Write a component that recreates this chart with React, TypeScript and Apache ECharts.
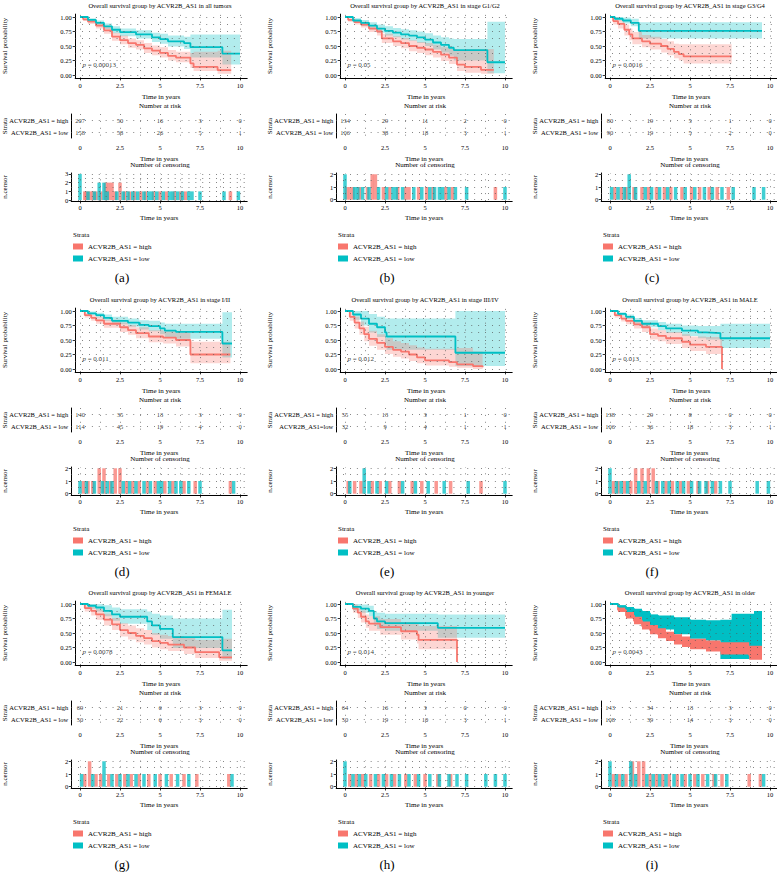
import React, { useEffect, useRef } from "react";
import * as echarts from "echarts";

const HIGH = "ACVR2B_AS1 = high";
const LOW = "ACVR2B_AS1 = low";
const RED = "#F8766D";
const TEAL = "#00BFC4";
const FONT = "Liberation Serif";

const TITLES = [
  "Overall survival group by ACVR2B_AS1 in all tumors",
  "Overall survival group by ACVR2B_AS1 in stage G1/G2",
  "Overall survival group by ACVR2B_AS1 in stage G3/G4",
  "Overall survival group by ACVR2B_AS1 in stage I/II",
  "Overall survival group by ACVR2B_AS1 in stage III/IV",
  "Overall survival group by ACVR2B_AS1 in MALE",
  "Overall survival group by ACVR2B_AS1 in FEMALE",
  "Overall survival group by ACVR2B_AS1 in younger",
  "Overall survival group by ACVR2B_AS1 in older",
];
const LETTERS = ["(a)", "(b)", "(c)", "(d)", "(e)", "(f)", "(g)", "(h)", "(i)"];
const P_VALUES = ["0.00013", "0.05", "0.0016", "0.011", "0.012", "0.013", "0.0078", "0.014", "0.0043"];
const LOW_LABELS = [LOW, LOW, LOW, LOW, "ACVR2B_AS1=low", LOW, LOW, LOW, LOW];

const X_TICKS = [0, 2.5, 5, 7.5, 10];
const SURV_TICKS = [0, 0.25, 0.5, 0.75, 1];
const GRID_X = [0, 1.25, 2.5, 3.75, 5, 6.25, 7.5, 8.75, 10];
const GRID_Y = [0, 0.125, 0.25, 0.375, 0.5, 0.625, 0.75, 0.875, 1];

const RISK_TIMES = [0, 2.5, 5, 7.5, 10];
const RISK_HIGH = [
  [207, 50, 16, 3, 0], [134, 29, 11, 2, 0], [80, 19, 5, 1, 0],
  [140, 35, 13, 3, 0], [55, 13, 3, 1, 0], [138, 29, 8, 0, 0],
  [69, 21, 6, 3, 0], [64, 16, 3, 0, 0], [143, 34, 13, 3, 0],
];
const RISK_LOW = [
  [158, 58, 26, 5, 1], [106, 38, 18, 3, 1], [90, 19, 5, 2, 0],
  [114, 45, 19, 4, 0], [32, 9, 4, 1, 1], [106, 36, 18, 3, 1],
  [50, 22, 6, 3, 0], [50, 19, 10, 3, 1], [108, 39, 14, 3, 0],
];
const CENSOR_MAX = [3, 2, 2, 2, 2, 2, 2, 2, 2];

// [time, survival, lower CI, upper CI]
const A_HIGH = [[0,1,1,1],[0.2,0.96,0.93,0.99],[0.5,0.92,0.88,0.96],[1,0.85,0.8,0.9],[1.5,0.77,0.71,0.83],[2,0.66,0.59,0.73],[2.5,0.6,0.53,0.68],[3,0.55,0.47,0.63],[3.5,0.52,0.44,0.6],[4,0.46,0.38,0.55],[4.5,0.42,0.34,0.51],[5,0.38,0.3,0.48],[5.5,0.33,0.25,0.43],[6,0.3,0.22,0.4],[6.9,0.2,0.12,0.38],[7.1,0.14,0.07,0.4],[8.6,0.085,0.02,0.42],[9.45,0.085,0.02,0.42]];
const A_LOW = [[0,1,1,1],[0.5,0.95,0.92,0.98],[1,0.9,0.86,0.94],[1.5,0.84,0.79,0.89],[2,0.78,0.72,0.84],[2.5,0.74,0.67,0.8],[3.5,0.7,0.63,0.77],[4.5,0.65,0.57,0.73],[5,0.62,0.54,0.71],[5.5,0.58,0.49,0.68],[6.5,0.55,0.45,0.66],[6.9,0.48,0.3,0.7],[8.9,0.37,0.18,0.7],[10,0.37,0.18,0.7]];
const B_HIGH = [[0,1,1,1],[0.2,0.95,0.92,0.98],[0.6,0.91,0.87,0.95],[1,0.87,0.82,0.92],[1.5,0.8,0.74,0.86],[2,0.75,0.68,0.82],[2.3,0.63,0.55,0.71],[3,0.58,0.5,0.67],[3.5,0.55,0.46,0.64],[4,0.5,0.41,0.6],[4.5,0.47,0.38,0.57],[5,0.44,0.34,0.55],[5.5,0.4,0.3,0.52],[6,0.35,0.24,0.48],[6.5,0.3,0.19,0.45],[7,0.18,0.07,0.42],[7.5,0.14,0.04,0.45],[8.5,0.09,0.02,0.45],[9.3,0.09,0.02,0.45]];
const B_LOW = [[0,1,1,1],[0.5,0.94,0.9,0.98],[1,0.9,0.85,0.95],[1.5,0.85,0.79,0.91],[2,0.8,0.73,0.87],[2.5,0.76,0.68,0.84],[3,0.73,0.65,0.81],[3.5,0.7,0.61,0.79],[4,0.68,0.59,0.77],[4.5,0.65,0.55,0.75],[5,0.61,0.5,0.72],[5.5,0.56,0.44,0.68],[6,0.52,0.39,0.65],[6.5,0.47,0.33,0.63],[6.8,0.43,0.25,0.62],[8.9,0.22,0.03,0.92],[10,0.22,0.03,0.92]];
const C_HIGH = [[0,1,1,1],[0.2,0.93,0.87,0.99],[0.5,0.88,0.8,0.95],[0.9,0.78,0.68,0.87],[1.2,0.7,0.6,0.8],[1.4,0.63,0.53,0.74],[2,0.58,0.48,0.69],[2.5,0.54,0.44,0.66],[3.2,0.5,0.39,0.62],[3.6,0.45,0.34,0.58],[4,0.4,0.29,0.54],[4.3,0.36,0.25,0.53],[4.6,0.32,0.2,0.53],[7.6,0.32,0.2,0.53]];
const C_LOW = [[0,1,1,1],[0.3,0.97,0.94,1],[0.8,0.94,0.89,0.99],[1.3,0.9,0.84,0.97],[1.8,0.76,0.63,0.91],[9.5,0.76,0.63,0.91]];
const D_HIGH = [[0,1,1,1],[0.3,0.93,0.89,0.97],[0.7,0.88,0.83,0.93],[1,0.84,0.78,0.9],[1.5,0.78,0.71,0.85],[2.5,0.72,0.64,0.8],[3,0.67,0.59,0.76],[3.5,0.62,0.53,0.72],[4.3,0.56,0.46,0.67],[5.2,0.54,0.44,0.65],[6,0.5,0.39,0.63],[6.9,0.25,0.1,0.47],[9.4,0.25,0.1,0.47]];
const D_LOW = [[0,1,1,1],[0.5,0.96,0.93,0.99],[1,0.93,0.89,0.97],[1.5,0.88,0.83,0.94],[2,0.83,0.77,0.9],[3,0.8,0.73,0.87],[3.7,0.76,0.68,0.84],[4.3,0.74,0.65,0.83],[5,0.7,0.6,0.8],[5.3,0.66,0.55,0.78],[6,0.64,0.52,0.78],[8.9,0.44,0.2,0.98],[9.5,0.44,0.2,0.98]];
const E_HIGH = [[0,1,1,1],[0.3,0.9,0.83,0.98],[0.6,0.8,0.7,0.9],[0.9,0.7,0.59,0.82],[1.2,0.6,0.48,0.73],[1.5,0.52,0.4,0.66],[2,0.45,0.33,0.6],[2.5,0.38,0.26,0.53],[3,0.33,0.21,0.48],[3.5,0.3,0.18,0.45],[4,0.25,0.14,0.41],[4.5,0.2,0.1,0.37],[5,0.15,0.06,0.35],[6.5,0.12,0.04,0.35],[7,0.08,0.02,0.36],[8,0.05,0,0.3],[8.6,0.03,0,0.25]];
const E_LOW = [[0,1,1,1],[0.5,0.94,0.85,1],[1,0.87,0.75,1],[1.5,0.78,0.63,0.95],[2,0.72,0.55,0.9],[2.5,0.63,0.45,0.87],[2.6,0.56,0.33,0.87],[6.9,0.28,0.05,1],[10,0.28,0.05,1]];
const F_HIGH = [[0,1,1,1],[0.3,0.93,0.89,0.97],[0.7,0.87,0.82,0.92],[1,0.83,0.77,0.89],[1.5,0.77,0.7,0.84],[2,0.72,0.64,0.8],[2.5,0.6,0.51,0.7],[3,0.57,0.48,0.67],[3.5,0.53,0.43,0.64],[4.5,0.47,0.36,0.6],[5,0.42,0.31,0.56],[6,0.38,0.26,0.55],[7,0,0,0]];
const F_LOW = [[0,1,1,1],[0.5,0.95,0.92,0.98],[1,0.9,0.86,0.94],[1.5,0.83,0.78,0.88],[2,0.78,0.72,0.84],[3,0.74,0.67,0.81],[3.5,0.7,0.62,0.78],[4.5,0.66,0.57,0.75],[5.5,0.63,0.53,0.74],[6,0.62,0.51,0.74],[6.9,0.53,0.36,0.78],[10,0.53,0.36,0.78]];
const G_HIGH = [[0,1,1,1],[0.3,0.93,0.87,0.99],[0.7,0.88,0.8,0.95],[1,0.82,0.73,0.91],[1.5,0.73,0.63,0.83],[2,0.65,0.55,0.76],[2.5,0.55,0.44,0.67],[3,0.5,0.39,0.63],[3.5,0.45,0.34,0.58],[4,0.41,0.3,0.55],[4.5,0.36,0.25,0.5],[5,0.33,0.22,0.47],[5.5,0.3,0.19,0.45],[6.5,0.25,0.14,0.42],[7.2,0.17,0.07,0.38],[8.7,0.08,0.02,0.4],[9.5,0.08,0.02,0.4]];
const G_LOW = [[0,1,1,1],[0.5,0.97,0.92,1],[1,0.94,0.87,1],[1.5,0.88,0.79,0.98],[2,0.82,0.71,0.94],[2.5,0.78,0.66,0.91],[4.2,0.7,0.55,0.87],[4.5,0.63,0.47,0.83],[5,0.57,0.4,0.8],[5.8,0.43,0.24,0.75],[8.9,0.2,0.05,0.9],[9.5,0.2,0.05,0.9]];
const H_HIGH = [[0,1,1,1],[0.5,0.92,0.85,0.99],[0.8,0.85,0.76,0.94],[1,0.78,0.68,0.89],[1.3,0.7,0.59,0.82],[1.5,0.66,0.54,0.79],[2.2,0.6,0.47,0.74],[3.5,0.53,0.39,0.69],[4.5,0.47,0.32,0.66],[4.6,0.38,0.22,0.62],[7,0,0,0]];
const H_LOW = [[0,1,1,1],[0.5,0.95,0.89,1],[1,0.92,0.85,0.99],[1.5,0.88,0.79,0.97],[1.8,0.75,0.63,0.88],[2,0.7,0.57,0.85],[2.5,0.67,0.54,0.83],[5.8,0.59,0.42,0.82],[10,0.59,0.42,0.82]];
const I_HIGH = [[0,1,1,1],[0.5,0.9,0.86,0.94],[1,0.8,0.75,0.86],[1.5,0.71,0.65,0.78],[2,0.62,0.56,0.7],[2.5,0.55,0.48,0.64],[3,0.48,0.41,0.58],[3.5,0.43,0.36,0.52],[4,0.38,0.3,0.48],[4.5,0.34,0.26,0.44],[5,0.3,0.22,0.4],[6,0.26,0.18,0.37],[6.9,0.22,0.13,0.34],[8.7,0.12,0.04,0.28],[9.5,0.12,0.04,0.28]];
const I_LOW = [[0,1,1,1],[0.5,0.96,0.92,0.98],[1,0.92,0.84,0.95],[1.5,0.88,0.77,0.92],[2,0.84,0.69,0.88],[2.5,0.8,0.62,0.82],[3,0.77,0.56,0.8],[4,0.73,0.48,0.77],[5,0.7,0.4,0.73],[6,0.67,0.37,0.72],[6.9,0.45,0.05,0.73],[7.6,0.45,0.05,0.83],[9,0.45,0.05,0.88],[9.5,0.45,0.05,0.88]];

// [time, n.censor]
const A_CEN_HIGH = [[0.3,1],[0.4,1],[0.6,1],[0.8,1],[1,1],[1.3,1],[1.6,2],[1.8,2],[2,2],[2.2,1],[2.5,2],[2.8,1],[3.1,1],[3.4,1],[3.8,1],[4.1,1],[4.6,1],[5,1],[5.4,1],[5.9,1],[6.3,1],[6.6,1],[9.4,1]];
const A_CEN_LOW = [[0,3],[0.5,1],[0.9,1],[1.2,2],[1.5,2],[1.7,1],[2.3,1],[2.7,1],[3,1],[3.3,1],[3.6,1],[4,1],[4.3,1],[4.5,1],[4.8,1],[5.2,1],[5.6,1],[5.8,1],[6.1,1],[6.4,1],[6.8,1],[7,1],[7.5,1],[9,1],[9.9,1]];
const B_CEN_HIGH = [[0.1,1],[0.3,1],[0.5,1],[0.9,1],[1.4,1],[1.7,2],[1.9,2],[2.4,1],[2.8,1],[3.3,1],[3.8,1],[4,1],[4.6,1],[5.1,1],[5.5,1],[6.3,1],[6.7,1],[9.4,1]];
const B_CEN_LOW = [[0,2],[0.6,1],[0.8,1],[1.1,1],[1.5,1],[2.1,1],[2.6,1],[3,1],[3.2,1],[3.6,1],[4.3,1],[4.8,1],[5.3,1],[5.6,1],[5.9,1],[6.1,1],[6.5,1],[6.9,1],[7.6,1],[10,1]];
const C_CEN_HIGH = [[0.3,1],[0.7,1],[1,1],[1.5,1],[2,1],[2.4,1],[2.9,1],[3.4,1],[3.8,1],[4.5,1],[5.1,1],[5.6,1],[6.2,1],[6.7,1],[7.4,1]];
const C_CEN_LOW = [[0.1,1],[0.5,1],[0.9,1],[1.2,2],[1.6,1],[2.2,1],[2.6,1],[3.1,1],[3.6,1],[4.1,1],[4.7,1],[5.3,1],[5.9,1],[6.4,1],[7,1],[7.7,1],[9,1],[9.6,1]];
const D_CEN_HIGH = [[0.2,1],[0.5,1],[0.8,1],[1.2,2],[1.5,2],[1.9,1],[2.2,2],[2.5,2],[2.9,1],[3.3,1],[3.7,1],[4.2,1],[4.7,1],[5.3,1],[5.8,1],[6.5,1],[7.2,1],[9.4,1]];
const D_CEN_LOW = [[0,1],[0.4,1],[0.9,1],[1.4,1],[1.7,1],[2,1],[2.7,1],[3.1,1],[3.5,1],[4,1],[4.4,1],[4.9,1],[5.1,1],[5.6,1],[6,1],[6.3,1],[6.8,1],[7.5,1],[9.6,1]];
const E_CEN_HIGH = [[0.2,1],[0.6,1],[1,1],[1.7,1],[2.2,1],[2.8,1],[3.4,1],[4.2,1],[4.8,1],[5.7,1],[6.6,1],[8.5,1]];
const E_CEN_LOW = [[0.3,1],[1.2,2],[1.5,1],[2,1],[2.6,1],[3.6,1],[4.4,1],[5.2,1],[6.2,1],[7.7,1],[10,1]];
const F_CEN_HIGH = [[0.2,1],[0.5,1],[0.9,1],[1.3,1],[1.6,2],[2,2],[2.4,2],[2.7,2],[3,1],[3.5,1],[3.9,1],[4.4,1],[4.9,1],[5.5,1],[6.1,1],[6.6,1]];
const F_CEN_LOW = [[0,2],[0.4,1],[0.7,1],[1.1,1],[1.8,1],[2.2,1],[2.9,1],[3.3,1],[3.7,1],[4.2,1],[4.6,1],[5.1,1],[5.6,1],[6,1],[6.4,1],[6.9,1],[7.5,1],[9.2,1],[9.9,1]];
const G_CEN_HIGH = [[0.3,1],[0.6,2],[1,1],[1.3,1],[1.8,1],[2.3,1],[2.8,1],[3.2,1],[3.7,1],[4.3,1],[5,1],[5.7,1],[6.5,1],[7.3,1],[9.3,1]];
const G_CEN_LOW = [[0.1,1],[0.8,1],[1.5,2],[2,1],[2.5,1],[3,1],[3.5,1],[4,1],[4.7,1],[5.4,1],[6.1,1],[6.8,1],[9.5,1]];
const H_CEN_HIGH = [[0.3,1],[0.7,1],[1.1,1],[1.6,1],[2.1,1],[2.6,1],[3.1,1],[3.8,1],[4.4,1],[5,1],[5.8,1],[6.6,1]];
const H_CEN_LOW = [[0,2],[0.5,1],[0.9,1],[1.3,1],[1.9,1],[2.4,1],[2.9,1],[3.4,1],[4,1],[4.6,1],[5.3,1],[5.9,1],[6.5,1],[7,1],[7.6,1],[8.8,1],[9.4,1],[10,1]];
const I_CEN_HIGH = [[0.2,1],[0.6,1],[1,1],[1.4,2],[1.8,2],[2.1,2],[2.5,1],[2.9,1],[3.3,1],[3.7,1],[4.2,1],[4.7,1],[5.3,1],[5.8,1],[6.5,1],[7,1],[8.7,1],[9.4,1]];
const I_CEN_LOW = [[0,2],[0.4,1],[0.8,1],[1.3,2],[1.6,1],[2.3,1],[2.7,1],[3.1,1],[3.5,1],[4,1],[4.5,1],[5,1],[5.5,1],[6.1,1],[6.6,1],[7.3,1],[9.6,1]];

const KM_HIGH = [A_HIGH, B_HIGH, C_HIGH, D_HIGH, E_HIGH, F_HIGH, G_HIGH, H_HIGH, I_HIGH];
const KM_LOW = [A_LOW, B_LOW, C_LOW, D_LOW, E_LOW, F_LOW, G_LOW, H_LOW, I_LOW];
const CEN_HIGH = [A_CEN_HIGH, B_CEN_HIGH, C_CEN_HIGH, D_CEN_HIGH, E_CEN_HIGH, F_CEN_HIGH, G_CEN_HIGH, H_CEN_HIGH, I_CEN_HIGH];
const CEN_LOW = [A_CEN_LOW, B_CEN_LOW, C_CEN_LOW, D_CEN_LOW, E_CEN_LOW, F_CEN_LOW, G_CEN_LOW, H_CEN_LOW, I_CEN_LOW];
const BAND_OPACITY = [0.3, 0.3, 0.3, 0.3, 0.3, 0.3, 0.3, 0.3, 1];

const COL_X = [0, 265, 530];
const ROW_Y = [0, 294, 587];

const axisLineStyle = { onZero: false, lineStyle: { color: "#000", width: 1 } };
const tickStyle = { length: 2.5, lineStyle: { color: "#000", width: 0.8 } };
const labelBase = { fontSize: 6.5, fontFamily: FONT, color: "#000" };
const nameStyle = { fontSize: 7, fontFamily: FONT, color: "#000" };
const dotStyle = { color: "#555", width: 0.8, type: [0.9, 6] };

function gridDots(idx: number, xs: any[], ys: any[]) {
  return {
    type: "scatter",
    xAxisIndex: idx,
    yAxisIndex: idx,
    data: [[0, 0]],
    symbolSize: 0,
    silent: true,
    z: 0,
    markLine: {
      silent: true,
      symbol: ["none", "none"],
      label: { show: false },
      emphasis: { disabled: true },
      lineStyle: dotStyle,
      data: [...xs.map((v) => ({ xAxis: v })), ...ys.map((v) => ({ yAxis: v }))],
    },
  };
}

function bandSeries(idx: number, km: number[][], color: string, opacity: number) {
  return {
    type: "custom",
    xAxisIndex: idx,
    yAxisIndex: idx,
    silent: true,
    z: 1,
    encode: { x: [0, 3], y: [1, 2] },
    data: km.map((r, j) => [r[0], r[2], r[3], j + 1 < km.length ? km[j + 1][0] : r[0]]),
    renderItem: (params: any, api: any) => {
      if (params.dataIndexInside !== 0) return null;
      const n = params.dataInsideLength;
      const top: number[][] = [];
      const bottom: number[][] = [];
      for (let j = 0; j < n; j++) {
        const t0 = api.value(0, j);
        const lo = api.value(1, j);
        const hi = api.value(2, j);
        const t1 = api.value(3, j);
        top.push(api.coord([t0, hi]), api.coord([t1, hi]));
        bottom.push(api.coord([t0, lo]), api.coord([t1, lo]));
      }
      return {
        type: "polygon",
        shape: { points: top.concat(bottom.reverse()) },
        style: { fill: color, opacity, stroke: "none" },
      };
    },
  };
}

function buildOption() {
  const grid: any[] = [];
  const xAxis: any[] = [];
  const yAxis: any[] = [];
  const series: any[] = [];
  const legend: any[] = [];
  const graphic: any[] = [];

  TITLES.forEach((title, i) => {
    const ox = COL_X[i % 3];
    const oy = ROW_Y[Math.floor(i / 3)];
    const g0 = grid.length;
    const lowLabel = LOW_LABELS[i];
    const nMax = CENSOR_MAX[i];

    grid.push({ left: ox + 75.2, top: oy + 14.1, width: 172, height: 63.8, outerBoundsMode: "none" });
    grid.push({ left: ox + 71.2, top: oy + 114, width: 176, height: 24, outerBoundsMode: "none" });
    grid.push({ left: ox + 71.2, top: oy + 173, width: 176, height: 28, outerBoundsMode: "none" });

    const xBase = (gi: number, min: number, nameGap: number, margin: number) => ({
      gridIndex: gi,
      type: "value",
      min,
      max: 10.45,
      axisLine: axisLineStyle,
      axisTick: { ...tickStyle, customValues: X_TICKS },
      axisLabel: { ...labelBase, margin, customValues: X_TICKS },
      splitLine: { show: false },
      name: "Time in years",
      nameLocation: "middle",
      nameGap,
      nameMoveOverlap: false,
      nameTextStyle: nameStyle,
    });
    xAxis.push(xBase(g0, -0.3, 16, 4));
    xAxis.push(xBase(g0 + 1, -0.55, 17, 6));
    xAxis.push(xBase(g0 + 2, -0.55, 13, 3));

    yAxis.push({
      gridIndex: g0,
      type: "value",
      min: -0.05,
      max: 1.05,
      axisLine: axisLineStyle,
      axisTick: { ...tickStyle, customValues: SURV_TICKS },
      axisLabel: { ...labelBase, margin: 3.5, customValues: SURV_TICKS, formatter: (v: number) => v.toFixed(2) },
      splitLine: { show: false },
      name: "Survival probability",
      nameLocation: "middle",
      nameRotate: 90,
      nameGap: 67,
      nameMoveOverlap: false,
      nameTextStyle: nameStyle,
    });
    yAxis.push({
      gridIndex: g0 + 1,
      type: "category",
      inverse: true,
      data: [HIGH, lowLabel],
      axisLine: axisLineStyle,
      axisTick: { ...tickStyle, alignWithLabel: true },
      axisLabel: { ...labelBase, fontSize: 6.5, margin: 3 },
      splitLine: { show: false },
      name: "Strata",
      nameLocation: "middle",
      nameRotate: 90,
      nameGap: 63,
      nameMoveOverlap: false,
      nameTextStyle: nameStyle,
    });
    const cenTicks = Array.from({ length: nMax + 1 }, (_, k) => k);
    const cenDots: number[] = [];
    for (let k = 0; k <= nMax * 2; k++) cenDots.push(k / 2);
    yAxis.push({
      gridIndex: g0 + 2,
      type: "value",
      min: -0.1,
      max: nMax + 0.1,
      axisLine: axisLineStyle,
      axisTick: { ...tickStyle, customValues: cenTicks },
      axisLabel: { ...labelBase, margin: 3, customValues: cenTicks },
      splitLine: { show: false },
      name: "n.censor",
      nameLocation: "middle",
      nameRotate: 90,
      nameGap: 63,
      nameMoveOverlap: false,
      nameTextStyle: nameStyle,
    });

    series.push(gridDots(g0, GRID_X, GRID_Y));
    series.push(gridDots(g0 + 1, GRID_X, [HIGH, lowLabel]));
    series.push(gridDots(g0 + 2, GRID_X, cenDots));

    series.push(bandSeries(g0, KM_LOW[i], TEAL, BAND_OPACITY[i]));
    series.push(bandSeries(g0, KM_HIGH[i], RED, BAND_OPACITY[i]));

    const curves = [
      { name: HIGH, km: KM_HIGH[i], color: RED },
      { name: LOW, km: KM_LOW[i], color: TEAL },
    ];
    curves.forEach((g) => {
      series.push({
        name: g.name,
        type: "line",
        xAxisIndex: g0,
        yAxisIndex: g0,
        step: "end",
        symbol: "none",
        z: 3,
        color: g.color,
        itemStyle: { color: g.color },
        lineStyle: { color: g.color, width: 1.8 },
        data: g.km.map((r) => [r[0], r[1]]),
      });
    });

    series.push({
      type: "scatter",
      xAxisIndex: g0,
      yAxisIndex: g0,
      symbolSize: 0,
      silent: true,
      z: 4,
      data: [[0.15, 0.17]],
      label: {
        show: true,
        position: "right",
        distance: 0,
        formatter: "{i|p} = " + P_VALUES[i],
        fontSize: 7,
        fontFamily: FONT,
        color: "#000",
        rich: { i: { fontStyle: "italic", fontSize: 7, fontFamily: FONT, color: "#000" } },
      },
    });

    const riskData: any[] = [];
    RISK_TIMES.forEach((t, j) => {
      riskData.push([t, 0, RISK_HIGH[i][j]]);
      riskData.push([t, 1, RISK_LOW[i][j]]);
    });
    series.push({
      type: "scatter",
      xAxisIndex: g0 + 1,
      yAxisIndex: g0 + 1,
      symbolSize: 0,
      silent: true,
      z: 4,
      data: riskData,
      label: {
        show: true,
        position: "inside",
        formatter: (p: any) => String(p.value[2]),
        fontSize: 6.5,
        fontFamily: FONT,
        color: "#000",
      },
    });

    series.push({
      type: "bar",
      xAxisIndex: g0 + 2,
      yAxisIndex: g0 + 2,
      barWidth: 3.5,
      barGap: "-100%",
      silent: true,
      z: 2,
      itemStyle: { color: "rgba(248,118,109,0.75)" },
      data: CEN_HIGH[i],
    });
    series.push({
      type: "bar",
      xAxisIndex: g0 + 2,
      yAxisIndex: g0 + 2,
      barWidth: 3.5,
      barGap: "-100%",
      silent: true,
      z: 2,
      itemStyle: { color: "rgba(0,191,196,0.75)" },
      data: CEN_LOW[i],
    });

    legend.push({
      left: ox + 73,
      top: oy + 243,
      orient: "vertical",
      padding: 0,
      itemWidth: 10,
      itemHeight: 6,
      itemGap: 5,
      icon: "rect",
      selectedMode: false,
      data: [HIGH, LOW],
      textStyle: { fontSize: 7, fontFamily: FONT, color: "#000" },
    });

    const txt = (x: number, y: number, text: string, size: number, align = "center") => ({
      type: "text",
      x,
      y,
      silent: true,
      style: { text, fontSize: size, fontFamily: FONT, fill: "#000", align, verticalAlign: "middle" },
    });
    graphic.push(txt(ox + 160, oy + 5, title, 6.5));
    graphic.push(txt(ox + 160, oy + 106, "Number at risk", 7));
    graphic.push(txt(ox + 160, oy + 165, "Number of censoring", 7));
    graphic.push(txt(ox + 73, oy + 235, "Strata", 7, "left"));
    graphic.push(txt(ox + 122, oy + 277, LETTERS[i], 13));
  });

  return {
    animation: false,
    backgroundColor: "#fff",
    textStyle: { fontFamily: FONT },
    grid,
    xAxis,
    yAxis,
    series,
    legend,
    graphic,
  };
}

export default function App() {
  const ref = useRef<HTMLDivElement>(null);
  useEffect(() => {
    if (!ref.current) return;
    const chart = echarts.init(ref.current, undefined, { renderer: "svg" });
    chart.setOption(buildOption() as any);
    return () => chart.dispose();
  }, []);
  return (
    <div
      ref={ref}
      style={{ position: "absolute", left: 0, top: 0, width: 777, height: 883, background: "#fff" }}
    />
  );
}
